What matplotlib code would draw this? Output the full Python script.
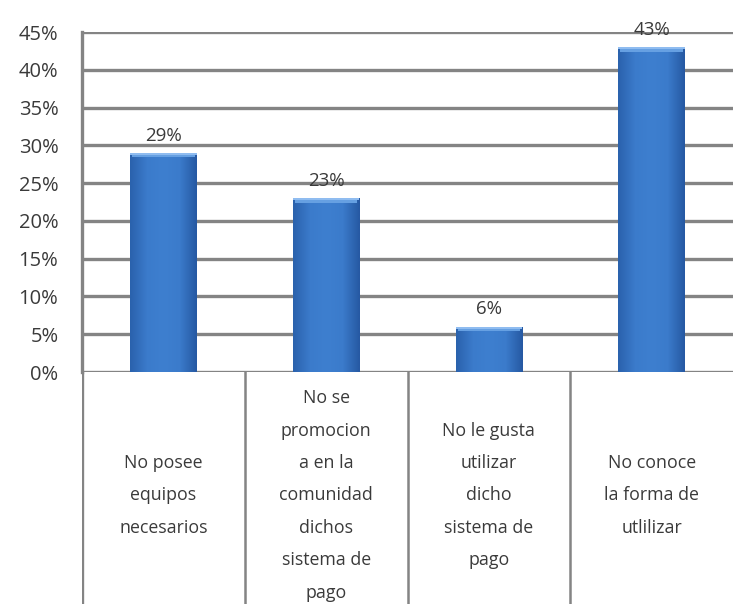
import matplotlib
matplotlib.use("Agg")
import matplotlib.pyplot as plt
import numpy as np
from matplotlib.colors import LinearSegmentedColormap

categories = [
    "No posee\nequipos\nnecesarios",
    "No se\npromocion\na en la\ncomunidad\ndichos\nsistema de\npago",
    "No le gusta\nutilizar\ndicho\nsistema de\npago",
    "No conoce\nla forma de\nutlilizar",
]
values = [29, 23, 6, 43]
yticks = [0, 5, 10, 15, 20, 25, 30, 35, 40, 45]

W, H = 733, 604
fig = plt.figure(figsize=(W / 100, H / 100), dpi=100)
fig.patch.set_facecolor("white")

left_px, right_px, top_px, base_px = 82, 733, 32, 372
ax = fig.add_axes([left_px / W, 1 - base_px / H,
                   (right_px - left_px) / W, (base_px - top_px) / H])

font = ["Open Sans", "DejaVu Sans"]
grid_c = "#848484"
txt_c = "#3a3a3a"
fs_tick = 14.5
fs_cat = 12.8

n = len(values)
x = np.arange(n)
ax.set_xlim(-0.5, n - 0.5)
ax.set_ylim(0, 45)

for t in yticks:
    ax.axhline(t, color=grid_c, lw=2.4, zorder=1)

bars = ax.bar(x, values, width=0.41, color="#3a79c9", zorder=3)

# soft bevel shading on each bar
cmap = LinearSegmentedColormap.from_list(
    "bevel", ["#2a62ad", "#3b7bcb", "#3e7fcf", "#3b7bcb", "#2659a3"])
grad = np.linspace(0, 1, 64).reshape(1, -1)
for b in bars:
    x0, w, h = b.get_x(), b.get_width(), b.get_height()
    im = ax.imshow(grad, extent=[x0, x0 + w, 0, h], aspect="auto",
                   cmap=cmap, zorder=4, interpolation="bilinear")
    im.set_clip_path(b)
    ax.bar(x0 + w / 2, 0.6, width=w * 0.94, bottom=h - 0.6,
           color="#66a0e2", zorder=5)
    ax.bar(x0 + w / 2, 0.25, width=w, bottom=h - 0.25,
           color="#8fbcf0", zorder=6)

for xi, v in zip(x, values):
    ax.text(xi, v + 1.1, f"{v}%", ha="center", va="bottom",
            fontsize=13.5, color=txt_c, family=font)

ax.set_yticks(yticks)
ax.set_yticklabels([f"{t}%" for t in yticks], family=font, fontsize=fs_tick,
                   color=txt_c)
ax.tick_params(axis="y", length=0, pad=17)
ax.set_xticks([])
for s in ["top", "right", "bottom"]:
    ax.spines[s].set_visible(False)
ax.spines["left"].set_color(grid_c)
ax.spines["left"].set_linewidth(2.4)

# category table below the plot area
tab = fig.add_axes([left_px / W, 0, (right_px - left_px) / W, (H - base_px) / H])
tab.set_xlim(-0.5, n - 0.5)
tab.set_ylim(0, 1)
tab.axis("off")
tab.axvline(-0.5, color=grid_c, lw=2.4)
for b in np.arange(n - 1) + 0.5:
    tab.axvline(b, color=grid_c, lw=1.8)
for xi, lab in zip(x, categories):
    tab.text(xi, 0.468, lab, ha="center", va="center", fontsize=fs_cat,
             linespacing=2.03, color=txt_c, family=font)

fig.savefig("out.png", dpi=100)
